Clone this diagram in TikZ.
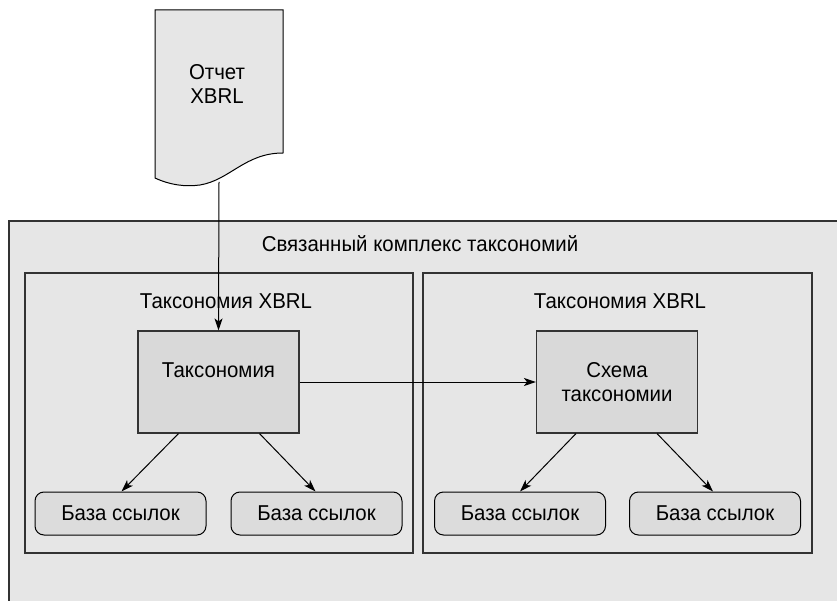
\documentclass[tikz,border=0pt]{standalone}
\usepackage{fontspec}
\setmainfont{Liberation Sans}[FakeStretch=0.95]
\usepackage{xcolor}
\usetikzlibrary{positioning,calc,arrows.meta}
\definecolor{paper}{HTML}{E6E6E6}
\definecolor{boxgray}{HTML}{D9D9D9}
\definecolor{basegray}{HTML}{DCDCDC}
\definecolor{edge}{HTML}{333333}

\begin{document}
\begin{tikzpicture}[x=1pt,y=-1pt,
    frame/.style={draw=edge, line width=1.1pt, fill=paper},
    taxbox/.style={draw=edge, line width=1.1pt, fill=boxgray, minimum width=161pt, minimum height=102pt, align=center, inner sep=0pt},
    basebox/.style={draw=black, line width=1pt, fill=basegray, rounded corners=9pt, minimum width=171pt, minimum height=43pt, inner sep=0pt},
    link/.style={line width=1pt, -{Stealth[length=12pt,width=8pt,inset=3pt]}},
    font=\fontsize{21.5}{23.5}\selectfont]
    \useasboundingbox (0,0) rectangle (837,601);
    \clip (0,0) rectangle (837,601);

    % Document
    \draw[draw=black, line width=1pt, fill=paper] (155,10) -- (283,10) -- (283,153)
        .. controls (245,153) and (230,180) .. (200,185)
        .. controls (185,187) and (170,185) .. (155,178) -- cycle;
    \node[align=center] (report) at (217,84) {Отчет\\XBRL};
    \coordinate (docbot) at (219,182);

    % Outer frame
    \draw[frame] (9,221) rectangle (850,620);
    \node (complex) at (420,244) {Связанный комплекс таксономий};

    % Two taxonomies
    \draw[frame] (25,273) rectangle (413,553);
    \draw[frame] (423,273) rectangle (812,553);
    \node (titleL) at (226,301) {Таксономия XBRL};
    \node (titleR) at (620,301) {Таксономия XBRL};

    \node[taxbox] (tax) at (218.5,382) {Таксономия\\\mbox{}};
    \node[taxbox] (schema) at (617,382) {Схема\\таксономии};

    \node[basebox] (baseA) at (120.5,513.5) {База ссылок};
    \node[basebox] (baseB) at (316.5,513.5) {База ссылок};
    \node[basebox] (baseC) at (520,513.5) {База ссылок};
    \node[basebox] (baseD) at (715,513.5) {База ссылок};

    % Connectors
    \draw[link] (docbot) -- (tax.north);
    \draw[link] (tax.east) -- (schema.west);
    \draw[link] ([xshift=-40pt]tax.south) -- ([xshift=1pt]baseA.north);
    \draw[link] ([xshift=41pt]tax.south) -- ([xshift=-1pt]baseB.north);
    \draw[link] ([xshift=-41pt]schema.south) -- (baseC.north);
    \draw[link] ([xshift=40pt]schema.south) -- ([xshift=-2pt]baseD.north);
\end{tikzpicture}
\end{document}
